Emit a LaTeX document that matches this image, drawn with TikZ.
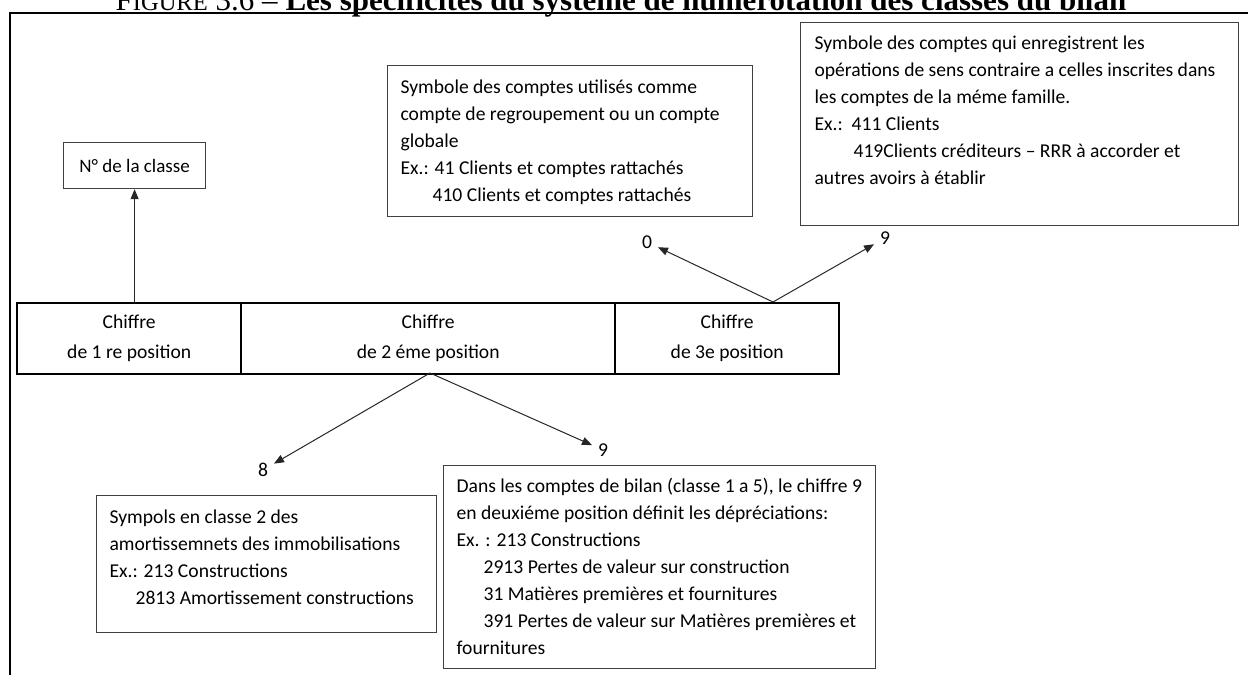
\documentclass[tikz,border=0pt]{standalone}
\usepackage{fontspec}
\setmainfont{Carlito}
\newfontfamily\titlefont{Liberation Serif}
\usetikzlibrary{arrows.meta}
\newcommand{\bxt}[5]{\parbox[t][#2][t]{#1}{\raggedright\setlength{\leftskip}{#4}\fontsize{19.6}{27}\selectfont\rule{0pt}{#3}#5\par}}
\begin{document}
\begin{tikzpicture}[x=1pt,y=-1pt,
  bx/.style={draw=black!75, line width=1.2pt, inner sep=0pt, anchor=north west, fill=white},
  cell/.style={draw=black, line width=2.4pt, minimum height=71pt, inner sep=0pt, align=center, anchor=north west, font=\fontsize{19.6}{30}\selectfont},
  arr/.style={-{Triangle[length=10pt,width=8pt]}, line width=1pt, black!85},
  dig/.style={font=\fontsize{19.6}{20}\selectfont, inner sep=1pt, outer sep=5pt}]
\useasboundingbox (0,0) rectangle (1248,675);
% title (partly cut off, as in the reference)
\node[anchor=base, inner sep=0pt, font=\titlefont\fontsize{31}{32}\selectfont] (title) at (621,10) {F{\fontsize{24.5}{25}\selectfont IGURE} 3.6 – \textbf{Les spécificités du système de numérotation des classes du bilan}};
% frame
\draw[line width=2.8pt] (1248,13) -- (10,13) -- (10,675);
% table
\node[cell, minimum width=224pt] (c1) at (16,302) {Chiffre\\de 1 re position};
\node[cell, minimum width=374pt] (c2) at (240,302) {Chiffre\\de 2 éme position};
\node[cell, minimum width=224pt] (c3) at (614,302) {Chiffre\\de 3e position};
% class box
\node[bx, minimum width=142pt, minimum height=46pt, font=\fontsize{19}{20}\selectfont] (nl) at (63,142) {N° de la classe};
% box 0
\node[bx] (b0) at (387,65) {\bxt{365pt}{151pt}{28pt}{13pt}{Symbole des comptes utilisés comme\\compte de regroupement ou un compte\\globale\\Ex.: 41 Clients et comptes rattachés\\\hspace*{32pt}410 Clients et comptes rattachés}};
% box 9 (top)
\node[bx] (b9) at (800,22) {\bxt{438pt}{203pt}{27pt}{14pt}{Symbole des comptes qui enregistrent les\\opérations de sens contraire a celles inscrites dans\\les comptes de la méme famille.\\Ex.:\ \ 411 Clients\\\hspace*{39pt}419Clients créditeurs – RRR à accorder et\\autres avoirs à établir}};
% box 8
\node[bx] (b8) at (96,495) {\bxt{340pt}{137pt}{28pt}{13pt}{Sympols en classe 2 des\\amortissemnets des immobilisations\\Ex.: 213 Constructions\\\hspace*{26pt}2813 Amortissement constructions}};
% box 9 (bottom)
\node[bx] (b9b) at (443,465) {\bxt{432pt}{203pt}{27pt}{13pt}{Dans les comptes de bilan (classe 1 a 5), le chiffre 9\\en deuxiéme position définit les dépréciations:\\Ex. : 213 Constructions\\\hspace*{27pt}2913 Pertes de valeur sur construction\\\hspace*{27pt}31 Matières premières et fournitures\\\hspace*{27pt}391 Pertes de valeur sur Matières premières et\\fournitures}};
% digits
\node[dig] (d0) at (647,242) {0};
\node[dig] (d9a) at (885,238) {9};
\node[dig] (d8) at (263,470) {8};
\node[dig] (d9b) at (603,450) {9};
% connectors
\coordinate (o3) at (773,302);
\coordinate (o2) at (430,373);
\draw[arr] (nl.south |- c1.north) -- (nl.south);
\draw[arr] (o3) -- (d0);
\draw[arr] (o3) -- (d9a);
\draw[arr] (o2) -- (d8);
\draw[arr] (o2) -- (d9b);
\end{tikzpicture}
\end{document}
